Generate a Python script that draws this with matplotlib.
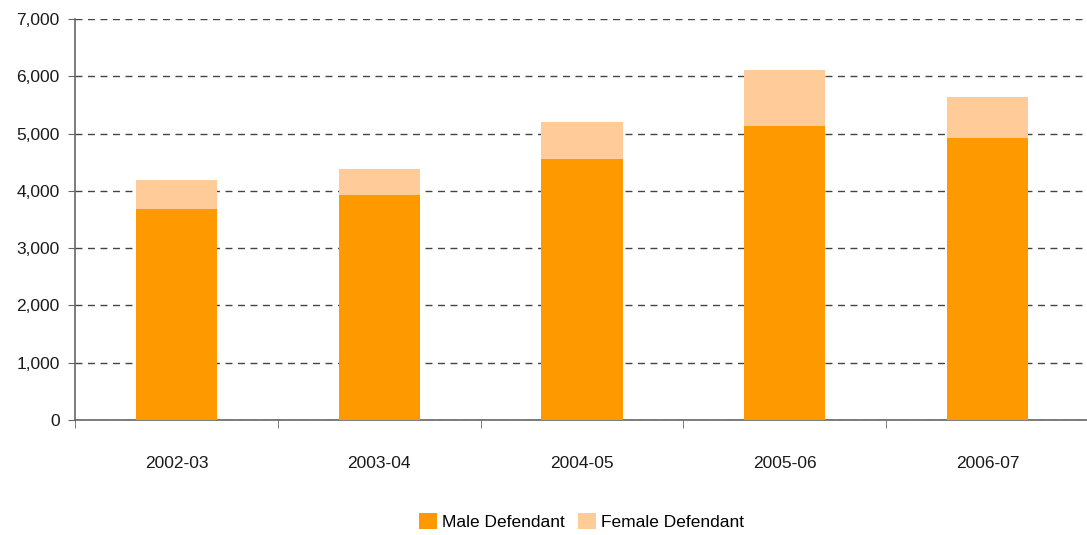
import matplotlib
matplotlib.use("Agg")
import matplotlib.pyplot as plt
import numpy as np
from matplotlib.ticker import FuncFormatter, FixedLocator

plt.rcParams['font.family'] = ['Liberation Sans Narrow', 'Liberation Sans', 'DejaVu Sans']

years = ['2002-03', '2003-04', '2004-05', '2005-06', '2006-07']
male = [3680, 3925, 4560, 5135, 4925]
female = [510, 455, 645, 980, 720]

MALE_COLOR = '#FF9900'
FEMALE_COLOR = '#FFCC99'

fig = plt.figure(figsize=(10.87, 5.35), dpi=100)
ax = fig.add_axes([0.069, 0.215, 0.931, 0.7495])

x = np.arange(len(years))
ax.bar(x, male, width=0.4, color=MALE_COLOR, label='Male Defendant', zorder=3)
ax.bar(x, female, width=0.4, bottom=male, color=FEMALE_COLOR, label='Female Defendant', zorder=3)

ax.set_ylim(0, 7000)
ax.set_xlim(-0.5, 4.49)
ax.set_yticks(range(0, 7001, 1000))
ax.yaxis.set_major_formatter(FuncFormatter(lambda v, p: f'{int(v):,}'))
ax.grid(axis='y', linestyle=(0, (5, 4)), color='#444444', linewidth=1, zorder=0)

ax.set_xticks(x)
ax.set_xticklabels(years)
ax.xaxis.set_minor_locator(FixedLocator(np.arange(-0.5, 4.6, 1.0)))
ax.tick_params(axis='x', which='major', length=0, pad=26, labelsize=12.5, labelcolor='#1a1a1a')
ax.tick_params(axis='x', which='minor', length=6, color='#666666', direction='out')
ax.tick_params(axis='y', length=5, color='#666666', labelsize=12.5, labelcolor='#1a1a1a', pad=6)

for s in ['top', 'right']:
    ax.spines[s].set_visible(False)
ax.spines['left'].set_color('#666666')
ax.spines['bottom'].set_color('#666666')
ax.spines['left'].set_linewidth(1.2)
ax.spines['bottom'].set_linewidth(1.2)

fig.legend(loc='center', bbox_to_anchor=(0.535, 0.025), ncol=2, frameon=False,
           fontsize=12.5, handlelength=1.0, handleheight=1.0, handletextpad=0.3,
           columnspacing=0.8)

fig.savefig('out.png', dpi=100)
